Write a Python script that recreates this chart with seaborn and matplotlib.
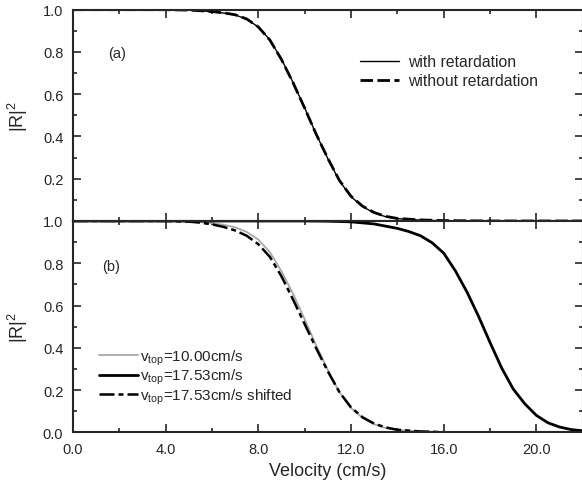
import matplotlib
matplotlib.use("Agg")
import matplotlib.pyplot as plt
import numpy as np
import pandas as pd
import seaborn as sns
from matplotlib.ticker import MultipleLocator

# ---------------- data ----------------
vel_a = [0, 1, 2, 3, 4, 5, 5.5, 6, 6.5, 7, 7.5, 8, 8.5, 9, 9.5, 10, 10.5, 11,
         11.5, 12, 12.5, 13, 13.5, 14, 15, 16, 18, 20, 22]
r_with = [1, 1, 1, 1, 1, 0.998, 0.995, 0.99, 0.984, 0.975, 0.955, 0.918, 0.857,
          0.765, 0.655, 0.535, 0.41, 0.295, 0.19, 0.115, 0.068, 0.038, 0.02,
          0.011, 0.004, 0.001, 0, 0, 0]
r_without = [1, 1, 1, 1, 1, 0.998, 0.995, 0.991, 0.985, 0.976, 0.956, 0.918,
             0.856, 0.764, 0.654, 0.534, 0.41, 0.296, 0.192, 0.117, 0.07, 0.04,
             0.022, 0.012, 0.005, 0.002, 0, 0, 0]

vel_10 = [0, 1, 2, 3, 4, 5, 5.5, 6, 6.5, 7, 7.5, 8, 8.5, 9, 9.5, 10, 10.5, 11,
          11.5, 12, 12.5, 13, 13.5, 14, 15, 16]
r_10 = [1, 1, 1, 1, 1, 0.998, 0.995, 0.99, 0.982, 0.97, 0.948, 0.912, 0.852,
        0.762, 0.655, 0.535, 0.41, 0.295, 0.19, 0.115, 0.068, 0.038, 0.02,
        0.011, 0.004, 0.001]

vel_1753 = [0, 4, 8, 10, 11, 12, 13, 14, 14.5, 15, 15.5, 16, 16.5, 17, 17.5,
            18, 18.5, 19, 19.5, 20, 20.5, 21, 21.5, 22]
r_1753 = [1, 1, 1, 1, 0.999, 0.996, 0.986, 0.965, 0.95, 0.93, 0.897, 0.848,
          0.765, 0.665, 0.55, 0.425, 0.305, 0.205, 0.135, 0.08, 0.045, 0.025,
          0.013, 0.007]

vel_shift = [0, 2, 4, 5, 5.5, 6, 6.5, 7, 7.5, 8, 8.5, 9, 9.5, 10, 10.5, 11,
             11.5, 12, 12.5, 13, 13.5, 14, 15, 16]
r_shift = [1, 1, 1, 0.997, 0.992, 0.984, 0.972, 0.955, 0.93, 0.89, 0.83, 0.738,
           0.628, 0.512, 0.397, 0.288, 0.19, 0.118, 0.071, 0.041, 0.023, 0.012,
           0.004, 0.001]

x_ticks = [0, 4, 8, 12, 16, 20]
x_ticklabels = ["0.0", "4.0", "8.0", "12.0", "16.0", "20.0"]
y_ticks = [0, 0.2, 0.4, 0.6, 0.8, 1.0]
y_labels_top = ["", "0.2", "0.4", "0.6", "0.8", "1.0"]
y_labels_bot = ["0.0", "0.2", "0.4", "0.6", "0.8", "1.0"]

legend_a = ["with retardation", "without retardation"]
legend_b = [r"v$_{\mathrm{top}}$=10.00cm/s", r"v$_{\mathrm{top}}$=17.53cm/s",
            r"v$_{\mathrm{top}}$=17.53cm/s shifted"]

# ---------------- style ----------------
sns.set_style("ticks")
plt.rcParams["font.family"] = ["Liberation Sans", "DejaVu Sans"]
plt.rcParams["mathtext.fontset"] = "custom"
plt.rcParams["mathtext.rm"] = "Liberation Sans"
plt.rcParams["mathtext.it"] = "Liberation Sans:italic"
plt.rcParams["mathtext.bf"] = "Liberation Sans:bold"

fig = plt.figure(figsize=(5.82, 4.85), dpi=100)
ax_t = fig.add_axes([0.1254, 0.5423, 0.8758, 0.4357])
ax_b = fig.add_axes([0.1254, 0.1066, 0.8758, 0.4357])

# ---------------- panel (a) ----------------
df_with = pd.DataFrame({"v": vel_a, "R": r_with})
df_without = pd.DataFrame({"v": vel_a, "R": r_without})
sns.lineplot(data=df_with, x="v", y="R", ax=ax_t, color="black", lw=1.0,
             label=legend_a[0])
sns.lineplot(data=df_without, x="v", y="R", ax=ax_t, color="black", lw=2.0,
             label=legend_a[1])
ax_t.lines[-1].set_dashes((4.5, 1.6))

# ---------------- panel (b) ----------------
df_10 = pd.DataFrame({"v": vel_10, "R": r_10})
df_1753 = pd.DataFrame({"v": vel_1753, "R": r_1753})
df_shift = pd.DataFrame({"v": vel_shift, "R": r_shift})
sns.lineplot(data=df_10, x="v", y="R", ax=ax_b, color="#a8a8a8", lw=1.3,
             label=legend_b[0])
sns.lineplot(data=df_1753, x="v", y="R", ax=ax_b, color="black", lw=2.0,
             label=legend_b[1])
sns.lineplot(data=df_shift, x="v", y="R", ax=ax_b, color="black", lw=1.8,
             label=legend_b[2])
ax_b.lines[-1].set_dashes((6, 1.6, 2, 1.6))

for ax in (ax_t, ax_b):
    ax.set_xlim(0, 22)
    ax.set_ylim(0, 1)
    ax.set_xticks(x_ticks)
    ax.xaxis.set_minor_locator(MultipleLocator(2))
    ax.yaxis.set_minor_locator(MultipleLocator(0.1))
    ax.set_yticks(y_ticks)
    ax.tick_params(which="both", direction="in", top=True, right=True,
                   width=1.2, labelsize=10.5, pad=7)
    ax.tick_params(which="major", length=6)
    ax.tick_params(which="minor", length=3)
    for s in ax.spines.values():
        s.set_linewidth(1.5)
    ax.set_ylabel(r"|R|$^{2}$", fontsize=13, labelpad=9)

ax_t.set_yticklabels(y_labels_top)
ax_t.set_xticklabels([])
ax_t.set_xlabel("")
ax_b.set_yticklabels(y_labels_bot)
ax_b.set_xticklabels(x_ticklabels)
ax_b.set_xlabel("Velocity (cm/s)", fontsize=13, labelpad=4)

ax_t.text(0.069, 0.795, "(a)", transform=ax_t.transAxes, fontsize=10.5,
          va="center", ha="left")
ax_b.text(0.058, 0.788, "(b)", transform=ax_b.transAxes, fontsize=10.5,
          va="center", ha="left")

ax_t.legend(loc="upper left", bbox_to_anchor=(0.563, 0.79), frameon=False,
            fontsize=11.3, handlelength=2.5, handletextpad=0.55,
            labelspacing=0.28, borderpad=0, borderaxespad=0)
ax_b.legend(loc="upper left", bbox_to_anchor=(0.051, 0.40), frameon=False,
            fontsize=11.0, handlelength=2.55, handletextpad=0.15,
            labelspacing=0.0, borderpad=0, borderaxespad=0)

fig.savefig("out.png", dpi=100)
